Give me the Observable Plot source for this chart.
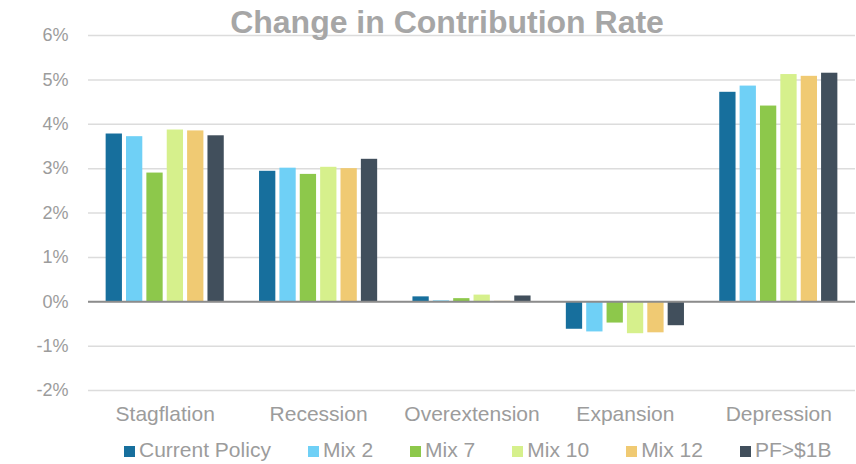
<!DOCTYPE html>
<html>
<head>
<meta charset="utf-8">
<script src="https://cdn.jsdelivr.net/npm/d3@7"></script>
<script src="https://cdn.jsdelivr.net/npm/@observablehq/plot@0.6"></script>
<style>
  html, body { margin: 0; padding: 0; background: #ffffff; }
  #chart { position: relative; width: 856px; height: 464px; font-family: "Liberation Sans", Arial, sans-serif; overflow: hidden; }
  #chart > .layer { position: absolute; left: 0; top: 0; }
  #chart > .layer svg { background: transparent; }
  #title { position: absolute; left: 447px; top: 5.6px; transform: translateX(-50%); white-space: nowrap;
           font-size: 32px; line-height: 1; font-weight: bold; color: #a6a6a6; }
  #legend { position: absolute; left: 124px; top: 439.3px; display: flex; align-items: center;
            font-size: 21px; line-height: 1; color: #9c9c9c; white-space: nowrap; }
  #legend .item { display: flex; align-items: center; margin-right: 37px; }
  #legend .sw { width: 11px; height: 11px; margin-right: 4px; position: relative; top: 2px; }
</style>
</head>
<body>
<div id="chart"></div>
<script>
// ---- data ----
const title = "Change in Contribution Rate";
const scenarios = ["Stagflation", "Recession", "Overextension", "Expansion", "Depression"];
const seriesNames = ["Current Policy", "Mix 2", "Mix 7", "Mix 10", "Mix 12", "PF>$1B"];
const seriesColors = ["#176f9d", "#6fd0f6", "#8dc84b", "#d6f08c", "#f0ca73", "#414f5c"];
const currentPolicy = [3.78, 2.94, 0.11, -0.62, 4.72];
const mix2 = [3.72, 3.01, 0.02, -0.68, 4.86];
const mix7 = [2.90, 2.87, 0.07, -0.48, 4.41];
const mix10 = [3.87, 3.03, 0.15, -0.72, 5.12];
const mix12 = [3.85, 3.00, 0.01, -0.70, 5.08];
const pfOver1B = [3.74, 3.21, 0.13, -0.54, 5.15];
const yTicks = [-2, -1, 0, 1, 2, 3, 4, 5, 6];
const yDomain = [-2, 6];

const seriesValues = [currentPolicy, mix2, mix7, mix10, mix12, pfOver1B];
const rows = [];
scenarios.forEach((sc, i) => {
  seriesNames.forEach((s, j) => rows.push({scenario: sc, series: s, value: seriesValues[j][i]}));
});

const W = 856, H = 464;
const margins = {marginTop: 35, marginBottom: 74, marginLeft: 88, marginRight: 1};
const chart = document.getElementById("chart");
function addLayer(svg) {
  const d = document.createElement("div");
  d.className = "layer";
  d.appendChild(svg);
  chart.appendChild(d);
  return d;
}

// Background: gridlines + y axis labels
const bg = Plot.plot({
  width: W, height: H, ...margins,
  style: {background: "transparent", fontSize: "18px", color: "#9c9c9c", fontFamily: "'Liberation Sans', Arial, sans-serif"},
  y: {domain: yDomain, ticks: yTicks, tickFormat: d => d + "%", tickSize: 0, tickPadding: 20, label: null},
  marks: [
    Plot.ruleY(yTicks, {stroke: "#dcdcdc", strokeWidth: 1.5})
  ]
});
addLayer(bg);

// Bars, faceted by scenario
const bars = Plot.plot({
  width: W, height: H, ...margins,
  style: {background: "transparent", fontSize: "21px", color: "#9c9c9c", fontFamily: "'Liberation Sans', Arial, sans-serif"},
  facet: {data: rows, x: "scenario"},
  fx: {domain: scenarios, paddingInner: 0.23, paddingOuter: 0.115, round: false, label: null, axis: "bottom", tickSize: 0, tickPadding: 16},
  x: {domain: seriesNames, paddingInner: 0.2, paddingOuter: 0, round: false, axis: null},
  y: {domain: yDomain, axis: null},
  color: {domain: seriesNames, range: seriesColors},
  marks: [
    Plot.barY(rows, {x: "series", y: "value", fill: "series"})
  ]
});
addLayer(bars);

// Zero axis line on top
const zero = Plot.plot({
  width: W, height: H, ...margins,
  style: {background: "transparent"},
  y: {domain: yDomain, axis: null},
  marks: [Plot.ruleY([0], {stroke: "#8c8c8c", strokeWidth: 2})]
});
addLayer(zero).style.pointerEvents = "none";

// Title
const t = document.createElement("div");
t.id = "title";
t.textContent = title;
chart.appendChild(t);

// Legend
const lg = document.createElement("div");
lg.id = "legend";
seriesNames.forEach((s, j) => {
  const it = document.createElement("div");
  it.className = "item";
  const sw = document.createElement("span");
  sw.className = "sw";
  sw.style.background = seriesColors[j];
  const tx = document.createElement("span");
  tx.textContent = s;
  it.appendChild(sw);
  it.appendChild(tx);
  lg.appendChild(it);
});
chart.appendChild(lg);
</script>
</body>
</html>
